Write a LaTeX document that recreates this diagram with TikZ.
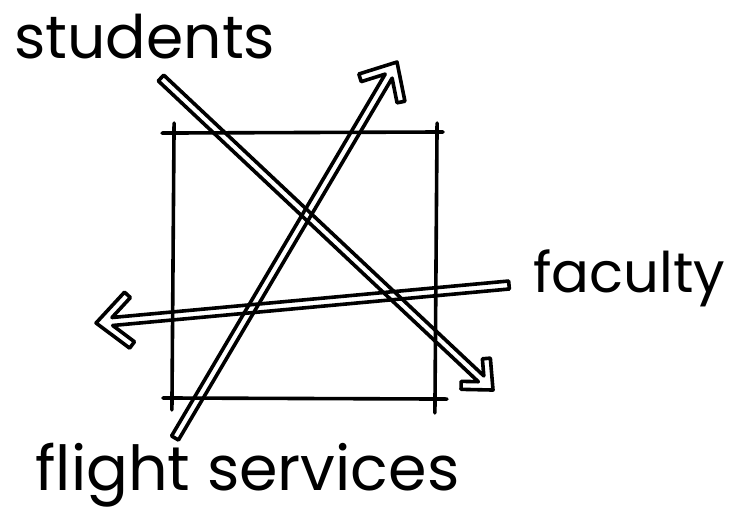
\documentclass[tikz,border=0pt]{standalone}
\usepackage{fontspec}
\setmainfont{Poppins}
\usetikzlibrary{calc}

% half width of the shaft, width of the head's arms (pt)
\newcommand{\shafthw}{2}
\newcommand{\armw}{4}

% open arrow, drawn as one outline: tail, tip, arm length (pt)
\newcommand{\hollowarrow}[3]{%
  \path (#1); \pgfgetlastxy{\ax}{\ay}
  \path (#2); \pgfgetlastxy{\bx}{\by}
  \pgfmathsetmacro{\ang}{atan2(\by-\ay,\bx-\ax)}
  \pgfmathsetmacro{\len}{veclen(\bx-\ax,\by-\ay)}
  \pgfmathsetmacro{\xj}{\len-(\armw+\shafthw*cos(42))/sin(42)}
  \pgfmathsetmacro{\xo}{\len-#3*cos(42)}
  \pgfmathsetmacro{\yo}{#3*sin(42)}
  \pgfmathsetmacro{\xi}{\xo-\armw*sin(42)}
  \pgfmathsetmacro{\yi}{\yo-\armw*cos(42)}
  \draw[sketch, shift={(#1)}, rotate=\ang]
    (0pt,\shafthw pt) -- (\xj pt,\shafthw pt) -- (\xi pt,\yi pt) -- (\xo pt,\yo pt)
    -- (\len pt,0pt) -- (\xo pt,-\yo pt) -- (\xi pt,-\yi pt)
    -- (\xj pt,-\shafthw pt) -- (0pt,-\shafthw pt) -- cycle;
}

\begin{document}
\begin{tikzpicture}[
        x=0.5pt, y=-0.5pt,
        sketch/.style={
            line width=1.8pt,
            line join=round,
            line cap=round
        },
        word/.style={
            anchor=base west,
            inner sep=0pt,
            font=\fontsize{30}{30}\selectfont
        }
    ]
    \useasboundingbox (0,0) rectangle (733,515);

    % labels
    \node[word] (students) at (14,58) {students};
    \node[word, font=\fontsize{28}{28}\selectfont] (faculty) at (533,292) {faculty};
    \node[word, font=\fontsize{31}{31}\selectfont] (flight) at (35,490) {flight services};

    % square
    \coordinate (tl) at (174,133);
    \coordinate (tr) at (437,132);
    \coordinate (bl) at (172,398);
    \coordinate (br) at (435,399);

    \draw[sketch, shorten <=-6pt, shorten >=-3pt] (tl) -- (tr);
    \draw[sketch, shorten <=-4.5pt, shorten >=-6pt] (bl) -- (br);
    \draw[sketch, shorten <=-5pt, shorten >=-6pt] (tl) -- (bl);
    \draw[sketch, shorten <=-4.5pt, shorten >=-7pt] (tr) -- (br);

    % arrows
    \coordinate (studentsTail) at (161,78);
    \coordinate (studentsTip) at (493,390);
    \coordinate (facultyTail) at (509,285);
    \coordinate (facultyTip) at (96,323);
    \coordinate (flightTail) at (175,438);
    \coordinate (flightTip) at (397,62);

    \hollowarrow{studentsTail}{studentsTip}{16}
    \hollowarrow{facultyTail}{facultyTip}{21}
    \hollowarrow{flightTail}{flightTip}{20}
\end{tikzpicture}
\end{document}
